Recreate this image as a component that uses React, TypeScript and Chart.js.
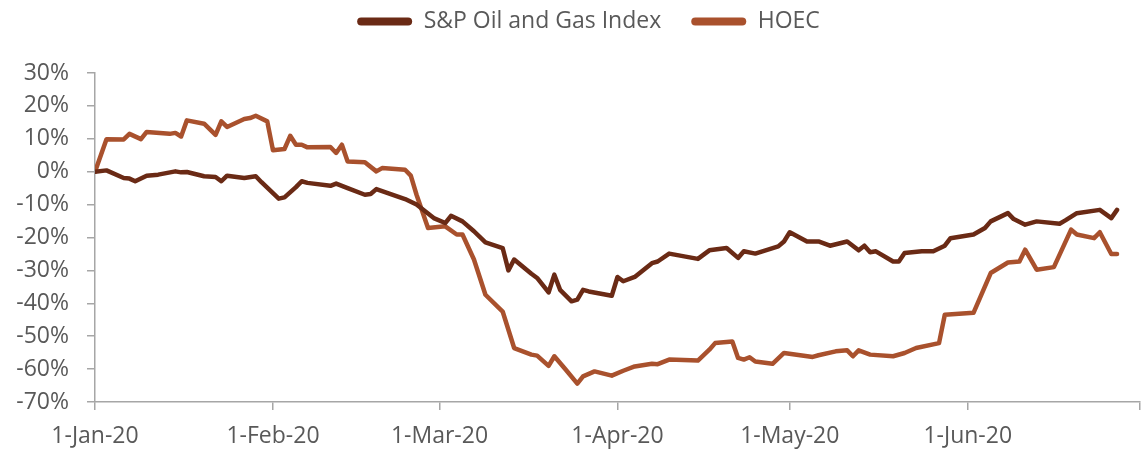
import { useEffect, useRef } from 'react';
import Chart from 'chart.js/auto';

// ---- data ----
const seriesNames = ['S&P Oil and Gas Index', 'HOEC'];

const spDates = [
  '2020-01-01','2020-01-03','2020-01-06','2020-01-07','2020-01-08','2020-01-10','2020-01-12','2020-01-15','2020-01-16','2020-01-17',
  '2020-01-20','2020-01-22','2020-01-23','2020-01-24','2020-01-27','2020-01-29','2020-01-30','2020-02-02','2020-02-03','2020-02-05',
  '2020-02-06','2020-02-07','2020-02-11','2020-02-12','2020-02-14','2020-02-17','2020-02-18','2020-02-19','2020-02-24','2020-02-26',
  '2020-02-29','2020-03-02','2020-03-03','2020-03-05','2020-03-07','2020-03-09','2020-03-12','2020-03-13','2020-03-14','2020-03-17',
  '2020-03-18','2020-03-20','2020-03-21','2020-03-22','2020-03-24','2020-03-25','2020-03-26','2020-03-27','2020-03-31','2020-04-01',
  '2020-04-02','2020-04-04','2020-04-07','2020-04-08','2020-04-10','2020-04-15','2020-04-17','2020-04-20','2020-04-22','2020-04-23',
  '2020-04-25','2020-04-29','2020-04-30','2020-05-01','2020-05-04','2020-05-06','2020-05-08','2020-05-11','2020-05-13','2020-05-14',
  '2020-05-15','2020-05-16','2020-05-19','2020-05-20','2020-05-21','2020-05-24','2020-05-26','2020-05-28','2020-05-29','2020-06-02',
  '2020-06-04','2020-06-05','2020-06-08','2020-06-09','2020-06-11','2020-06-13','2020-06-17','2020-06-18','2020-06-20','2020-06-24',
  '2020-06-26','2020-06-27',
];
const spValues = [
  0, 0.4, -1.9, -2.1, -2.9, -1.2, -0.9, 0.1, -0.2, -0.1,
  -1.4, -1.6, -2.9, -1.2, -1.9, -1.4, -3.2, -8.2, -7.8, -4.7,
  -2.9, -3.4, -4.3, -3.6, -5.0, -7.0, -6.8, -5.3, -8.3, -10.0,
  -14.1, -15.6, -13.4, -15.1, -18.1, -21.5, -23.2, -30.0, -26.7, -31.0,
  -32.3, -36.7, -31.3, -35.9, -39.4, -38.9, -35.9, -36.4, -37.7, -32.0,
  -33.3, -32.0, -27.8, -27.3, -24.9, -26.5, -23.9, -23.2, -26.2, -24.2,
  -24.9, -22.7, -21.2, -18.4, -21.2, -21.2, -22.5, -21.2, -23.9, -22.5,
  -24.5, -24.2, -27.3, -27.3, -24.7, -24.2, -24.2, -22.5, -20.2, -19.1,
  -17.1, -15.1, -12.6, -14.4, -16.1, -15.1, -15.8, -14.8, -12.6, -11.6,
  -14.1, -11.6,
];

const hoecDates = [
  '2020-01-01','2020-01-03','2020-01-06','2020-01-07','2020-01-09','2020-01-10','2020-01-14','2020-01-15','2020-01-16','2020-01-17',
  '2020-01-20','2020-01-22','2020-01-23','2020-01-24','2020-01-27','2020-01-28','2020-01-29','2020-01-31','2020-02-01','2020-02-03',
  '2020-02-04','2020-02-05','2020-02-06','2020-02-07','2020-02-11','2020-02-12','2020-02-13','2020-02-14','2020-02-17','2020-02-19',
  '2020-02-20','2020-02-24','2020-02-25','2020-02-26','2020-02-28','2020-03-02','2020-03-04','2020-03-05','2020-03-07','2020-03-09',
  '2020-03-12','2020-03-14','2020-03-17','2020-03-18','2020-03-20','2020-03-21','2020-03-23','2020-03-25','2020-03-26','2020-03-28',
  '2020-03-31','2020-04-02','2020-04-04','2020-04-07','2020-04-08','2020-04-10','2020-04-15','2020-04-17','2020-04-18','2020-04-21',
  '2020-04-22','2020-04-23','2020-04-24','2020-04-25','2020-04-28','2020-04-30','2020-05-05','2020-05-06','2020-05-09','2020-05-11',
  '2020-05-12','2020-05-13','2020-05-15','2020-05-19','2020-05-21','2020-05-23','2020-05-27','2020-05-28','2020-06-02','2020-06-05',
  '2020-06-08','2020-06-10','2020-06-11','2020-06-13','2020-06-16','2020-06-19','2020-06-20','2020-06-23','2020-06-24','2020-06-26',
  '2020-06-27',
];
const hoecValues = [
  0, 9.9, 9.8, 11.5, 9.9, 12.1, 11.5, 11.8, 10.7, 15.6,
  14.6, 11.2, 15.3, 13.6, 16.0, 16.3, 17.0, 15.3, 6.5, 6.9,
  10.9, 8.2, 8.2, 7.4, 7.5, 5.7, 8.2, 3.1, 2.9, 0.1,
  1.1, 0.6, -1.2, -7.0, -17.1, -16.6, -19.1, -19.1, -26.7, -37.4,
  -42.5, -53.6, -55.6, -55.9, -59.0, -56.1, -60.2, -64.4, -62.2, -60.7,
  -62.0, -60.5, -59.2, -58.4, -58.5, -57.1, -57.4, -54.1, -52.1, -51.6,
  -56.6, -57.1, -56.4, -57.7, -58.4, -55.1, -56.3, -55.8, -54.6, -54.3,
  -56.1, -54.3, -55.6, -56.1, -55.1, -53.6, -52.1, -43.5, -42.9, -30.8,
  -27.6, -27.3, -23.7, -29.8, -29.0, -17.6, -19.1, -20.2, -18.4, -25.0,
  -25.0,
];

const xTickDates = ['2020-01-01','2020-02-01','2020-03-01','2020-04-01','2020-05-01','2020-06-01','2020-07-01'];
const xTickLabels = ['1-Jan-20','1-Feb-20','1-Mar-20','1-Apr-20','1-May-20','1-Jun-20',''];
const yMin = -70;
const yMax = 30;
const yStep = 10;

// ---- helpers ----
const ORIGIN = Date.UTC(2020, 0, 1);
const toDay = (s: string) => {
  const [y, m, d] = s.split('-').map(Number);
  return Math.round((Date.UTC(y, m - 1, d) - ORIGIN) / 86400000);
};
const xTickDays = xTickDates.map(toDay);

const SP_COLOR = '#6A2A15';
const HOEC_COLOR = '#A9512D';
const TEXT = '#595959';
const AXIS = '#A6A6A6';
const FONT = { family: "'Open Sans', 'Noto Sans', sans-serif", size: 23 };

export default function App() {
  const ref = useRef<HTMLCanvasElement | null>(null);

  useEffect(() => {
    document.body.style.margin = '0';
    const canvas = ref.current;
    if (!canvas) return;
    const chart = new Chart(canvas, {
      type: 'line',
      data: {
        datasets: [
          {
            label: seriesNames[0],
            data: spDates.map((d, i) => ({ x: toDay(d), y: spValues[i] })),
            borderColor: SP_COLOR,
            backgroundColor: SP_COLOR,
            borderWidth: 4.5,
            pointRadius: 0,
            tension: 0,
            borderJoinStyle: 'round',
            borderCapStyle: 'round',
          },
          {
            label: seriesNames[1],
            data: hoecDates.map((d, i) => ({ x: toDay(d), y: hoecValues[i] })),
            borderColor: HOEC_COLOR,
            backgroundColor: HOEC_COLOR,
            borderWidth: 4.5,
            pointRadius: 0,
            tension: 0,
            borderJoinStyle: 'round',
            borderCapStyle: 'round',
          },
        ],
      },
      options: {
        animation: false,
        responsive: false,
        maintainAspectRatio: false,
        // negative right padding widens the (full-width) legend so it sits a bit right of centre
        layout: { padding: { left: 0, right: -34, top: -20, bottom: 0 } },
        plugins: {
          tooltip: { enabled: false },
          legend: {
            position: 'top',
            weight: 1000,
            labels: {
              color: TEXT,
              font: FONT,
              boxWidth: 55,
              boxHeight: 8,
              useBorderRadius: true,
              borderRadius: 4,
              padding: 30,
              generateLabels: (c: any) =>
                Chart.defaults.plugins.legend.labels
                  .generateLabels(c)
                  .map((l: any) => ({ ...l, lineWidth: 0 })),
            },
          },
          // empty spacer between the legend and the plot area
          title: {
            display: true,
            text: ' ',
            position: 'top',
            weight: 500,
            font: { size: 10 },
            padding: { top: 0, bottom: 18 },
          },
        },
        scales: {
          x: {
            type: 'linear',
            min: xTickDays[0],
            max: xTickDays[xTickDays.length - 1],
            afterBuildTicks: (axis: any) => {
              axis.ticks = xTickDays.map((v) => ({ value: v }));
            },
            afterFit: (s: any) => {
              s.height = 54;
              s.paddingLeft = 0;
              s.paddingRight = 3;
            },
            ticks: {
              autoSkip: false,
              maxRotation: 0,
              color: TEXT,
              font: FONT,
              padding: 13,
              callback: (v: any) => {
                const i = xTickDays.indexOf(Number(v));
                return i >= 0 ? xTickLabels[i] : '';
              },
            },
            grid: { drawOnChartArea: false, drawTicks: true, tickLength: 8, color: AXIS, lineWidth: 1.5 },
            border: { color: AXIS, width: 1.5 },
          },
          y: {
            min: yMin,
            max: yMax,
            ticks: {
              stepSize: yStep,
              color: TEXT,
              font: FONT,
              padding: 18,
              callback: (v: any) => `${v}%`,
            },
            grid: { drawOnChartArea: false, drawTicks: true, tickLength: 8, color: AXIS, lineWidth: 1.5 },
            border: { color: AXIS, width: 1.5 },
            afterFit: (s: any) => {
              s.width = 95;
              s.paddingTop = 0;
              s.paddingBottom = 0;
            },
          },
        },
      },
    } as any);
    return () => chart.destroy();
  }, []);

  return (
    <div style={{ width: 1143, height: 456 }}>
      <canvas ref={ref} width={1143} height={456} style={{ width: 1143, height: 456, display: 'block' }} />
    </div>
  );
}
